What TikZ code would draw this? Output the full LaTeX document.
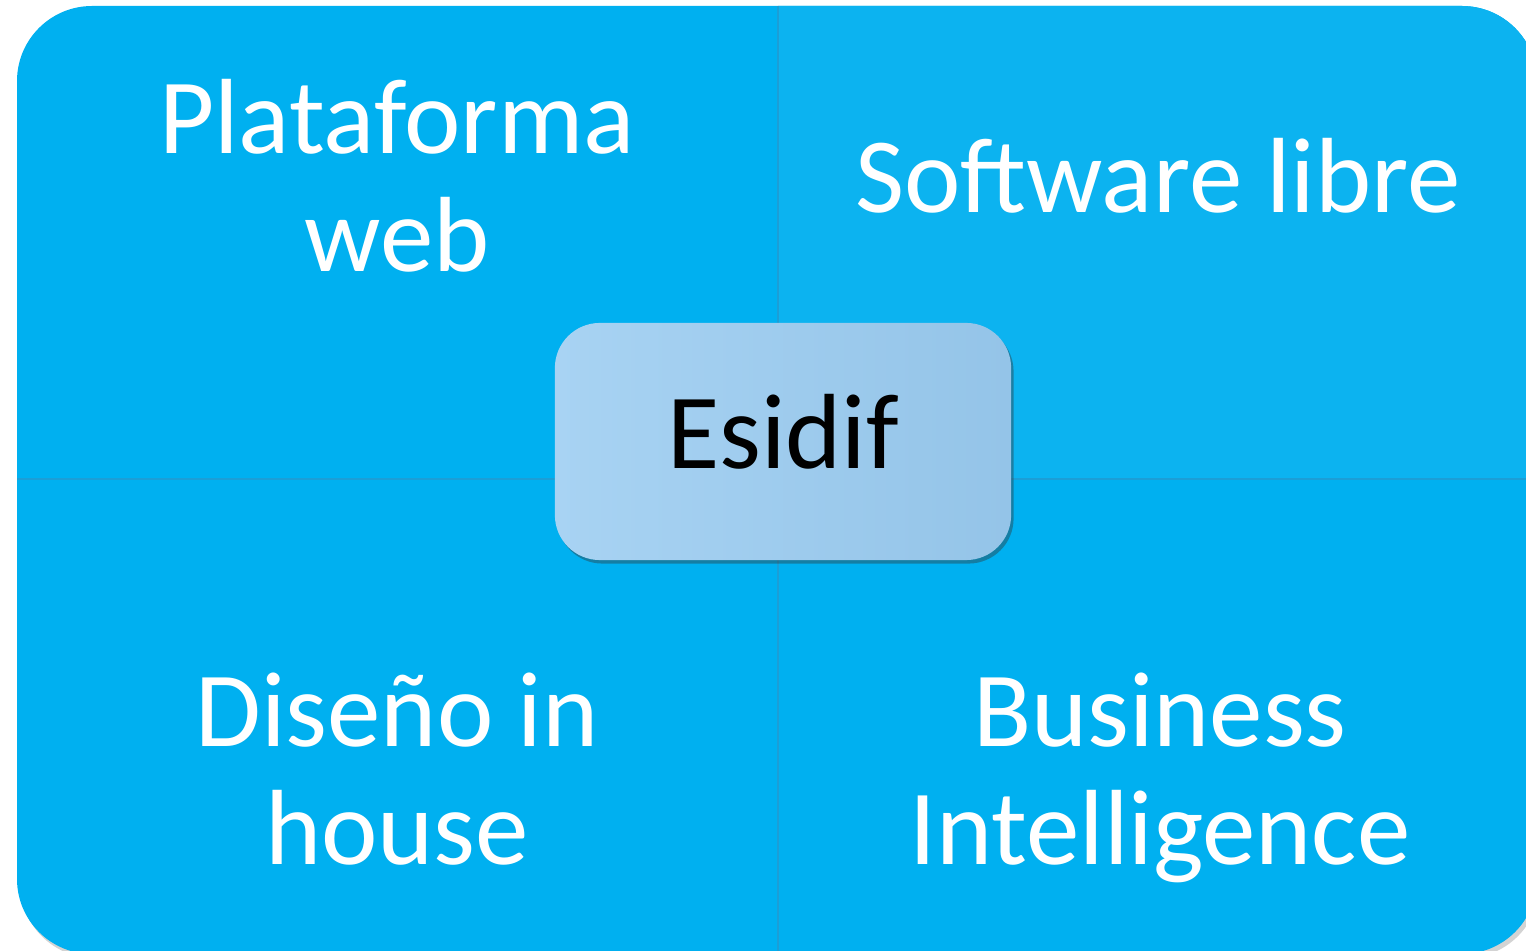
\documentclass[tikz,border=0pt]{standalone}
\usepackage{fontspec}
\setmainfont{Carlito}
\usetikzlibrary{shadows}

\definecolor{quadblue}{RGB}{0,176,240}
\definecolor{quadlight}{RGB}{12,179,240}
\definecolor{sepblue}{RGB}{28,158,214}
\definecolor{boxleft}{RGB}{168,211,243}
\definecolor{boxright}{RGB}{148,196,232}

\begin{document}
\begin{tikzpicture}[x=0.01cm,y=0.01cm]
            \tikzstyle{wl}=[text=white,align=center,inner sep=0pt,text depth=0pt,anchor=south,
              font=\fontsize{30.4}{33.6}\selectfont]
            \tikzstyle{cb}=[rounded corners=0.45cm,minimum width=4.56cm,minimum height=2.37cm,
              left color=boxleft,right color=boxright,text depth=0.2cm,
              drop shadow={shadow xshift=0.7pt,shadow yshift=-1pt,opacity=0.4,fill=black!80},
              font=\fontsize{30.4}{36}\selectfont]
            \tikzstyle{sep}=[sepblue,line width=0.4pt]

            \useasboundingbox (0,0) rectangle (1526,951);
            % frame and quadrants
            \fill[quadblue,rounded corners=0.75cm,
              drop shadow={shadow xshift=0.8pt,shadow yshift=-1.2pt,opacity=0.35}]
              (17,-3) rectangle (1537,945);
            \begin{scope}
              \clip (778,472) rectangle (1537,945);
              \fill[quadlight,rounded corners=0.75cm] (17,-3) rectangle (1537,945);
            \end{scope}
            \draw[sep] (778,-3) -- (778,945);
            \draw[sep] (17,472) -- (1537,472);

            \node [wl] (web) at (397,679) {Plataforma\\web};
            \node [wl] (libre) at (1158,738) {Software libre};
            \node [wl] (house) at (397,86) {Diseño in\\house};
            \node [wl] (bi) at (1160,86) {Business\\Intelligence};

            \node [cb] (esidif) at (783,509.5) {Esidif};
        \end{tikzpicture}
\end{document}
